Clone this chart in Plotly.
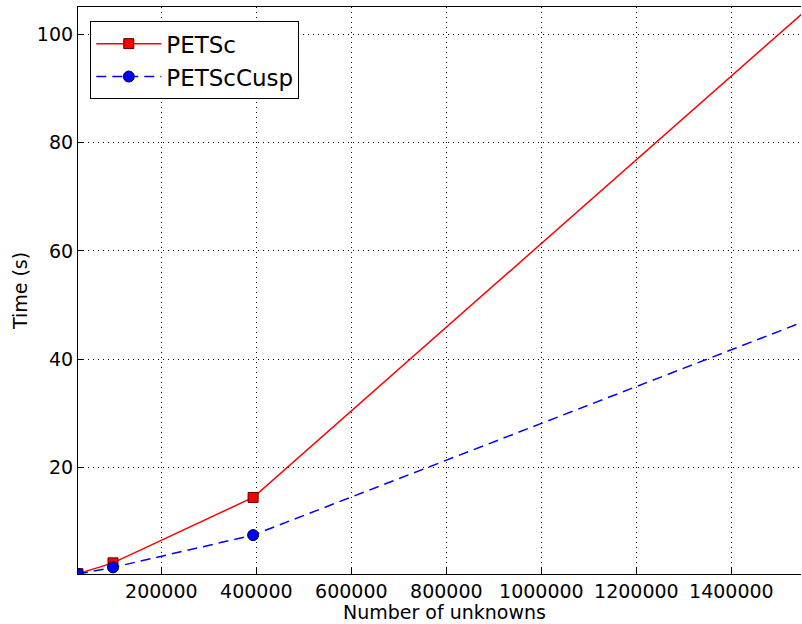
import plotly.graph_objects as go

unknowns = [24576, 98304, 393216, 1572864]
petsc = [0.3, 2.3, 14.4, 105.7]
petsc_cusp = [0.24, 1.46, 7.43, 47.6]
x_ticks = [200000, 400000, 600000, 800000, 1000000, 1200000, 1400000]
y_ticks = [20, 40, 60, 80, 100]

FONT = "DejaVu Sans"

fig = go.Figure()
fig.add_trace(go.Scatter(
    x=unknowns, y=petsc, name="PETSc", mode="lines+markers",
    line=dict(color="#ff0000", width=1.5),
    marker=dict(symbol="square", size=10, color="#ff0000",
                line=dict(color="#550000", width=1)),
    cliponaxis=True,
))
fig.add_trace(go.Scatter(
    x=unknowns, y=petsc_cusp, name="PETScCusp", mode="lines+markers",
    line=dict(color="#0000ff", width=1.5, dash="10px,6px"),
    marker=dict(symbol="circle", size=11, color="#0000ff",
                line=dict(color="#000033", width=1)),
    cliponaxis=True,
))

fig.add_annotation(
    text="Number of unknowns", xref="paper", yref="paper",
    x=0.5076, y=0, yshift=-25, xanchor="center", yanchor="top",
    showarrow=False, font=dict(family=FONT, size=19, color="black"),
)

fig.update_layout(
    width=802, height=624,
    margin=dict(l=78, r=1, t=7, b=50),
    paper_bgcolor="white", plot_bgcolor="white",
    font=dict(family=FONT, size=19, color="black"),
    showlegend=True,
    legend=dict(
        x=0.017, y=0.975, xanchor="left", yanchor="top",
        bgcolor="white", bordercolor="black", borderwidth=1,
        font=dict(family=FONT, size=23, color="black"),
        itemwidth=65, tracegroupgap=4,
    ),
    xaxis=dict(
        range=[24576, 1546600],
        tickvals=x_ticks, ticktext=[str(v) for v in x_ticks],
        showgrid=True, gridcolor="black", griddash="1px,4px", gridwidth=1,
        showline=True, linecolor="black", linewidth=1.2, mirror=True,
        ticks="inside", ticklen=6, tickcolor="black",
        zeroline=False,
    ),
    yaxis=dict(
        range=[0.24, 105.1],
        tickvals=y_ticks, ticktext=[str(v) for v in y_ticks],
        showgrid=True, gridcolor="black", griddash="1px,4px", gridwidth=1,
        showline=True, linecolor="black", linewidth=1.2, mirror=False,
        ticks="inside", ticklen=6, tickcolor="black",
        zeroline=False,
        title=dict(text="Time (s)", font=dict(size=19), standoff=4),
    ),
)

fig.write_html("out.html")
